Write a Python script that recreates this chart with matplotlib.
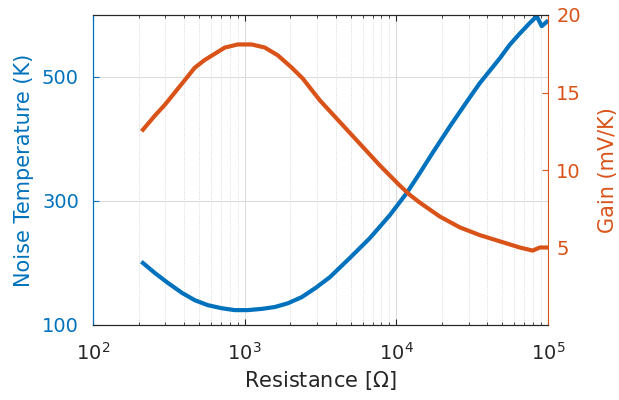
import numpy as np
import matplotlib
matplotlib.use("Agg")
import matplotlib.pyplot as plt
from matplotlib.ticker import LogLocator, NullFormatter

# Noise temperature series (Resistance in ohm, K)
r_noise = [214, 256, 312, 386, 470, 573, 709, 863, 1051, 1300, 1584, 1929,
           2386, 2951, 3650, 4944, 6699, 9074, 11747, 14309, 17429, 22566,
           29205, 35572, 48186, 56089, 65283, 75980, 84520, 91160, 98330]
noise_temp = [200, 184, 168, 152, 140, 132, 127, 124, 124, 126, 129, 135,
              145, 160, 177, 208, 240, 277, 313, 345, 378, 420,
              460, 490, 530, 552, 570, 587, 598, 582, 589]

# Gain series (Resistance in ohm, mV/K)
r_gain = [214, 256, 298, 347, 404, 470, 547, 637, 742, 903, 1117, 1361,
          1658, 2050, 2423, 3136, 4248, 5756, 7797, 10560, 12293, 14309,
          19389, 26266, 35572, 48186, 65283, 79530, 88440, 99840]
gain = [12.6, 13.5, 14.2, 15.0, 15.8, 16.6, 17.1, 17.5, 17.9, 18.1, 18.1, 17.9,
        17.4, 16.6, 15.9, 14.5, 13.1, 11.7, 10.3, 9.0, 8.4, 7.9,
        7.0, 6.3, 5.8, 5.4, 5.0, 4.8, 5.0, 5.0]

left_ticks = [100, 300, 500]
right_ticks = [5, 10, 15, 20]

blue = "#0072BD"
orange = "#D95319"
spine_gray = "#262626"

plt.rcParams['font.family'] = ['DejaVu Sans']
fig = plt.figure(figsize=(6.19, 4.0), dpi=100)
ax = fig.add_axes([0.150, 0.1875, 0.735, 0.775])
ax2 = ax.twinx()

ax.plot(r_noise, noise_temp, color=blue, lw=3.0, solid_joinstyle='round')
ax2.plot(r_gain, gain, color=orange, lw=3.0, solid_joinstyle='round')

ax.set_xscale('log')
ax.set_xlim(1e2, 1e5)
ax.set_ylim(100, 600)
ax2.set_ylim(0, 20)
ax.set_yticks(left_ticks)
ax2.set_yticks(right_ticks)
ax.xaxis.set_minor_locator(LogLocator(base=10, subs=np.arange(2, 10)))
ax.xaxis.set_minor_formatter(NullFormatter())

ax.grid(True, which='major', color='#dcdcdc', lw=0.8)
ax.grid(True, which='minor', axis='x', color='#cfcfcf', lw=0.6, ls=':')
ax.set_axisbelow(True)

ax.tick_params(axis='both', which='both', direction='in', top=True, labelsize=14)
ax.tick_params(axis='x', which='major', length=4, colors=spine_gray, pad=12)
ax.tick_params(axis='x', which='minor', length=2.5, colors=spine_gray)
ax.tick_params(axis='y', colors=blue, length=4, pad=10)
ax2.tick_params(axis='y', colors=orange, direction='in', length=4, labelsize=14, pad=6)

for s in ['top', 'bottom']:
    ax.spines[s].set_color(spine_gray)
    ax2.spines[s].set_color(spine_gray)
ax.spines['left'].set_color(blue)
ax2.spines['left'].set_color(blue)
ax2.spines['right'].set_color(orange)
ax.spines['right'].set_visible(False)

ax.set_xlabel('Resistance [$\\Omega$]', fontsize=15, color=spine_gray, labelpad=4)
ax.set_ylabel('Noise Temperature (K)', fontsize=15, color=blue, labelpad=6)
ax2.set_ylabel('Gain (mV/K)', fontsize=15, color=orange, labelpad=12)

fig.savefig('out.png', dpi=100)
